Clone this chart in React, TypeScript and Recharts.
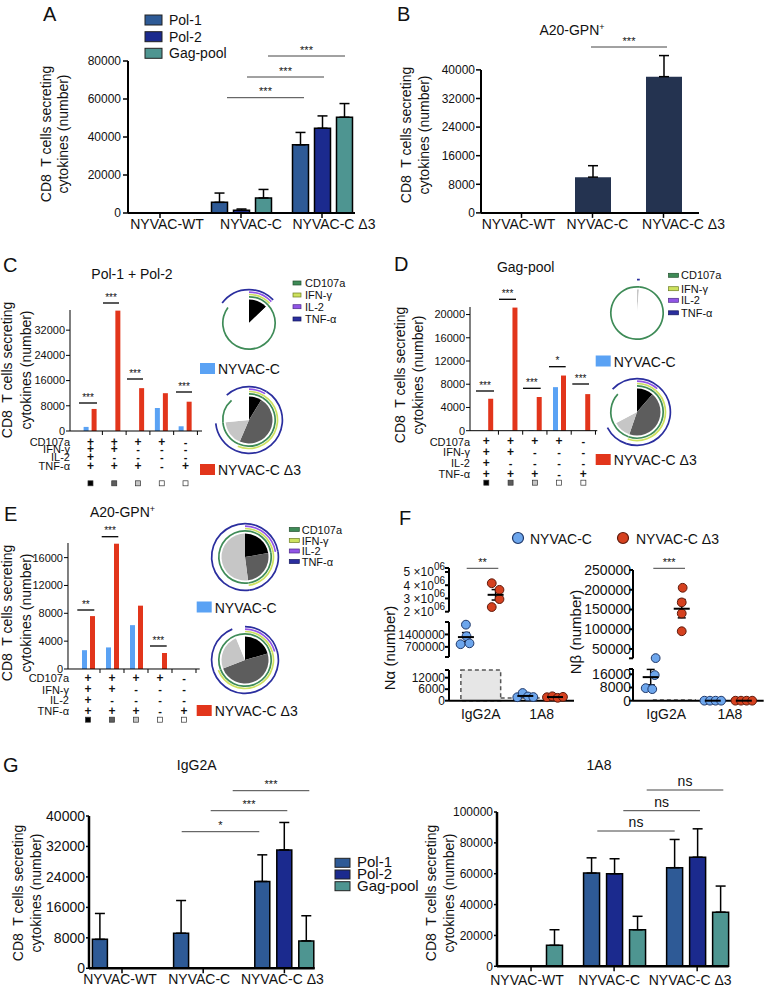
import React from "react";
import {
  BarChart,
  Bar,
  XAxis,
  YAxis,
  ErrorBar,
  PieChart,
  Pie,
  Cell,
  ScatterChart,
  Scatter,
  ReferenceArea,
  ReferenceLine,
} from "recharts";

const FONT = "'Liberation Sans', Arial, Helvetica, sans-serif";
const INK = "#111";

// ---------- data ----------
const vaccines = ["NYVAC-WT", "NYVAC-C", "NYVAC-C Δ3"];
const pools = ["Pol-1", "Pol-2", "Gag-pool"];

// A: CD8 response per peptide pool
const aPol1 = [0, 5600, 35900];
const aPol1Sem = [0, 4900, 6500];
const aPol2 = [0, 1400, 44600];
const aPol2Sem = [0, 700, 6500];
const aGag = [0, 7900, 50400];
const aGagSem = [0, 4500, 7200];
const aTicks = [0, 20000, 40000, 60000, 80000];

// B: A20-GPN+
const bA20 = [0, 10000, 38100];
const bA20Sem = [0, 3200, 5900];
const bTicks = [0, 8000, 16000, 24000, 32000, 40000];

// C-E: functional profiles (CD107a, IFN-γ, IL-2, TNF-α)
const markers = ["CD107a", "IFN-γ", "IL-2", "TNF-α"];
const profiles = [
  [1, 1, 1, 1],
  [1, 1, 0, 1],
  [1, 0, 0, 1],
  [1, 0, 0, 0],
  [0, 0, 0, 1],
];
const cNyvacC = [1300, 0, 0, 7300, 1500];
const cNyvacD3 = [7000, 38200, 13600, 12000, 9300];
const cTicks = [0, 8000, 16000, 24000, 32000];
const dNyvacC = [0, 0, 100, 7500, 0];
const dNyvacD3 = [5500, 21200, 5800, 9500, 6300];
const dTicks = [0, 4000, 8000, 12000, 16000, 20000];
const eNyvacC = [2700, 3100, 6300, 0, 0];
const eNyvacD3 = [7600, 18000, 9100, 2300, 0];
const eTicks = [0, 4000, 8000, 12000, 16000];

// F: neutrophil counts per mouse
const treatments = ["IgG2A", "1A8"];
const nAlphaIgC = [1950000, 1300000, 850000, 900000];
const nAlphaIgD3 = [4150000, 3650000, 2950000, 2350000];
const nAlpha1a8C = [1800, 4000, 2200, 1900];
const nAlpha1a8D3 = [1800, 2300, 1500, 2000];
const nBetaIgC = [27000, 15500, 7600, 7000];
const nBetaIgD3 = [205000, 168000, 140000, 95000];
const nBeta1a8C = [0, 0, 0, 0];
const nBeta1a8D3 = [0, 0, 0, 0];

// G: IgG2A vs 1A8 treated
const gIgPol1 = [7600, 9200, 22800];
const gIgPol1Sem = [6800, 8600, 7000];
const gIgPol2 = [0, 0, 31100];
const gIgPol2Sem = [0, 0, 7200];
const gIgGag = [0, 0, 7200];
const gIgGagSem = [0, 0, 6600];
const gIgTicks = [0, 8000, 16000, 24000, 32000, 40000];
const g1a8Pol1 = [0, 60400, 63900];
const g1a8Pol1Sem = [0, 9900, 18300];
const g1a8Pol2 = [0, 60000, 70700];
const g1a8Pol2Sem = [0, 9700, 18400];
const g1a8Gag = [13600, 23700, 35100];
const g1a8GagSem = [10100, 8700, 16900];
const g1a8Ticks = [0, 20000, 40000, 60000, 80000, 100000];

// ---------- styling ----------
const poolColors = ["#2e5a96", "#1b2a8e", "#4e9591"];
const navy = "#243350";
const blueC = "#5aa2f4";
const redD3 = "#e2351b";
const shades = ["#000000", "#5d5d5d", "#c6c6c6", "#ffffff", "#ffffff"];
const ringColors = ["#3e8b57", "#cde15e", "#9155e6", "#2a2e9e"];
const ringEdges = ["#24502f", "#6b7d22", "#4b2a86", "#15185c"];
const ringR = [26.2, 28.5, 30.9, 33.4];

type Frame = { x: number; y: number; w: number; h: number };
const frame = (x0: number, y0: number, x1: number, y1: number): Frame => ({
  x: x0,
  y: y0,
  w: x1 - x0,
  h: y1 - y0,
});

type Series = { key: string; values: number[]; sem: number[]; color: string };

function ShiftTick(props: any) {
  const { x, y, payload, shifts, font } = props;
  const i = vaccines.indexOf(payload.value);
  return (
    <text x={x + (shifts[i] || 0)} y={y} dy="0.71em" textAnchor="middle" fontSize={font} fill={INK} fontFamily={FONT}>
      {payload.value}
    </text>
  );
}

function VaccineBars(p: {
  f: Frame;
  series: Series[];
  domain: [number, number];
  ticks: number[];
  pad: { left: number; right: number };
  barSize: number;
  barGap: number;
  xFont: number;
  yFont: number;
  axisW: number;
  xTick: [number, number];
  yTick: [number, number];
  outline: string;
  shifts: number[];
  hideYLine?: boolean;
}) {
  const yw = 70;
  const mt = 20;
  const mr = 40;
  const xh = 36;
  const rows = vaccines.map((name, i) => {
    const r: Record<string, any> = { name };
    p.series.forEach((s) => {
      r[s.key] = s.values[i];
      r[s.key + "Sem"] = [0, s.sem[i]];
    });
    return r;
  });
  return (
    <div style={{ position: "absolute", left: p.f.x - yw, top: p.f.y - mt }}>
      <BarChart
        width={p.f.w + yw + mr}
        height={p.f.h + mt + xh}
        data={rows}
        margin={{ top: mt, right: mr, bottom: 0, left: 0 }}
        barSize={p.barSize}
        barGap={p.barGap}
      >
        <XAxis
          dataKey="name"
          height={xh}
          interval={0}
          padding={p.pad}
          stroke="#000"
          axisLine={{ stroke: "#000", strokeWidth: p.axisW }}
          tickLine={{ stroke: "#000", strokeWidth: 1.5 }}
          tickSize={p.xTick[0]}
          tickMargin={p.xTick[1]}
          tick={<ShiftTick shifts={p.shifts} font={p.xFont} />}
        />
        <YAxis
          width={yw}
          type="number"
          domain={p.domain}
          ticks={p.ticks}
          interval={0}
          stroke="#000"
          axisLine={p.hideYLine ? false : { stroke: "#000", strokeWidth: p.axisW }}
          tickLine={{ stroke: "#000", strokeWidth: 1.5 }}
          tickSize={p.yTick[0]}
          tickMargin={p.yTick[1]}
          tick={{ fontSize: p.yFont, fill: INK, fontFamily: FONT }}
        />
        {p.series.map((s) => (
          <Bar
            key={s.key}
            dataKey={s.key}
            fill={s.color}
            stroke={p.outline}
            strokeWidth={1.5}
            isAnimationActive={false}
          >
            <ErrorBar dataKey={s.key + "Sem"} width={5} strokeWidth={1.5} stroke="#000" direction="y" />
          </Bar>
        ))}
      </BarChart>
    </div>
  );
}

function ProfileTick(props: any) {
  const { x, y, payload, rows, sq, half } = props;
  const idx = Number(String(payload.value).slice(1));
  const col = profiles[idx];
  return (
    <g>
      <line x1={x + half} x2={x + half} y1={y} y2={y + 4} stroke="#000" strokeWidth={1} />
      {col.map((s: number, r: number) => (
        <text
          key={r}
          x={x}
          y={y + rows[r]}
          textAnchor="middle"
          fontSize={s ? 12 : 11}
          fontWeight="bold"
          fill={INK}
          fontFamily={FONT}
        >
          {s ? "+" : "-"}
        </text>
      ))}
      <rect x={x - 2.5} y={y + sq - 2.5} width={5} height={5} fill={shades[idx]} stroke="#333" strokeWidth={0.7} />
    </g>
  );
}

function SpiceBars(p: {
  f: Frame;
  nyvacC: number[];
  nyvacD3: number[];
  domain: [number, number];
  ticks: number[];
  pad: { left: number; right: number };
  rows: number[];
  sq: number;
  half: number;
}) {
  const yw = 60;
  const mt = 10;
  const mr = 10;
  const xh = 62;
  const data = profiles.map((_, i) => ({ name: `s${i}`, c: p.nyvacC[i], d3: p.nyvacD3[i] }));
  return (
    <div style={{ position: "absolute", left: p.f.x - yw, top: p.f.y - mt }}>
      <BarChart
        width={p.f.w + yw + mr}
        height={p.f.h + mt + xh}
        data={data}
        margin={{ top: mt, right: mr, bottom: 0, left: 0 }}
        barSize={5}
        barGap={3}
      >
        <XAxis
          dataKey="name"
          height={xh}
          interval={0}
          padding={p.pad}
          axisLine={{ stroke: "#000", strokeWidth: 1 }}
          tickLine={false}
          tickSize={0}
          tickMargin={0}
          tick={<ProfileTick rows={p.rows} sq={p.sq} half={p.half} />}
        />
        <YAxis
          width={yw}
          type="number"
          domain={p.domain}
          ticks={p.ticks}
          interval={0}
          axisLine={{ stroke: "#000", strokeWidth: 1 }}
          tickLine={{ stroke: "#000", strokeWidth: 1 }}
          tickSize={4}
          tickMargin={1}
          tick={{ fontSize: 11, fill: INK, fontFamily: FONT }}
        />
        <Bar dataKey="c" fill={blueC} isAnimationActive={false} />
        <Bar dataKey="d3" fill={redD3} isAnimationActive={false} />
      </BarChart>
    </div>
  );
}

function SpicePie({ cx, cy, values }: { cx: number; cy: number; values: number[] }) {
  const data = values.map((v, i) => ({ name: `p${i + 1}`, value: v }));
  const s = 80;
  return (
    <div style={{ position: "absolute", left: cx - s / 2, top: cy - s / 2 }}>
      <PieChart width={s} height={s} margin={{ top: 0, right: 0, bottom: 0, left: 0 }}>
        <Pie
          data={data}
          dataKey="value"
          cx={s / 2}
          cy={s / 2}
          innerRadius={0}
          outerRadius={23.5}
          startAngle={90}
          endAngle={-270}
          stroke="none"
          isAnimationActive={false}
        >
          {data.map((d, i) => (
            <Cell key={d.name} fill={shades[i]} />
          ))}
        </Pie>
        {markers.map((m, k) => (
          <Pie
            key={m}
            data={data}
            dataKey="value"
            cx={s / 2}
            cy={s / 2}
            innerRadius={ringR[k] - 0.85}
            outerRadius={ringR[k] + 0.85}
            startAngle={90}
            endAngle={-270}
            stroke="none"
            isAnimationActive={false}
          >
            {data.map((d, i) => (
              <Cell key={d.name} fill={profiles[i][k] ? ringColors[k] : "none"} />
            ))}
          </Pie>
        ))}
      </PieChart>
    </div>
  );
}

// ---------- F: scatter with broken y axes ----------
const fDomain: [number, number] = [0.43, 4.64];
const spread4 = [-0.27, -0.09, 0.09, 0.27];

type DotSet = { values: number[]; at: number; dx: number[]; fill: string; stroke: string };
type Seg = {
  y0: number;
  y1: number;
  domain: [number, number];
  ticks: number[];
  caps: number[];
  sci?: boolean;
  bottom?: boolean;
  extras?: React.ReactNode;
};

const mean = (a: number[]) => a.reduce((s, v) => s + v, 0) / a.length;
const sem = (a: number[]) => {
  const m = mean(a);
  const sd = Math.sqrt(a.reduce((s, v) => s + (v - m) * (v - m), 0) / (a.length - 1));
  return sd / Math.sqrt(a.length);
};

function SciTick(props: any) {
  const { x, y, payload } = props;
  const v = payload.value as number;
  if (v % 1000000 !== 0) return null;
  return (
    <text x={x} y={y + 4.5} textAnchor="end" fontSize={12} fill={INK} fontFamily={FONT}>
      {`${v / 1000000} ×10`}
      <tspan dy={-6} fontSize={10}>
        06
      </tspan>
    </text>
  );
}

function DotPanel({
  x0,
  x1,
  segs,
  sets,
  tickFont,
  tickMargin,
}: {
  x0: number;
  x1: number;
  segs: Seg[];
  sets: DotSet[];
  tickFont: number;
  tickMargin: number;
}) {
  const yw = 70;
  const mr = 10;
  return (
    <>
      {segs.map((seg, si) => {
        const mt = 8;
        const xh = seg.bottom ? 28 : 0;
        const mb = seg.bottom ? 0 : 8;
        const w = x1 - x0;
        const h = seg.y1 - seg.y0;
        const inSeg = (v: number) => v >= seg.domain[0] && v <= seg.domain[1];
        return (
          <div key={si} style={{ position: "absolute", left: x0 - yw, top: seg.y0 - mt }}>
            <ScatterChart
              width={w + yw + mr}
              height={h + mt + xh + mb}
              margin={{ top: mt, right: mr, bottom: mb, left: 0 }}
            >
              <XAxis
                type="number"
                dataKey="x"
                domain={fDomain}
                hide={!seg.bottom}
                height={xh}
                ticks={[1.5, 3.55]}
                tickFormatter={(v: number) => (v < 2.5 ? treatments[0] : treatments[1])}
                axisLine={{ stroke: "#000", strokeWidth: 2 }}
                tickLine={false}
                tickSize={6}
                tickMargin={2}
                tick={{ fontSize: 14, fill: INK, fontFamily: FONT }}
              />
              <YAxis
                type="number"
                dataKey="y"
                width={yw}
                domain={seg.domain}
                ticks={seg.ticks}
                interval={0}
                axisLine={{ stroke: "#000", strokeWidth: 2 }}
                tickLine={{ stroke: "#000", strokeWidth: 2 }}
                tickSize={4}
                tickMargin={tickMargin}
                tickFormatter={(v: number) => (seg.caps.includes(v) ? "" : String(v))}
                tick={seg.sci ? <SciTick /> : { fontSize: tickFont, fill: INK, fontFamily: FONT }}
              />
              {seg.extras}
              {sets.map((s, k) => {
                const pts = s.values
                  .map((v, i) => ({ x: s.at + s.dx[i], y: v }))
                  .filter((d) => inSeg(d.y));
                if (!pts.length) return null;
                return (
                  <Scatter
                    key={`d${k}`}
                    data={pts}
                    isAnimationActive={false}
                    shape={(q: any) => (
                      <circle cx={q.cx} cy={q.cy} r={4.4} fill={s.fill} stroke={s.stroke} strokeWidth={1} />
                    )}
                  />
                );
              })}
              {sets.map((s, k) => {
                const m = mean(s.values);
                if (!inSeg(m)) return null;
                return (
                  <Scatter
                    key={`m${k}`}
                    data={[{ x: s.at, y: m, e: sem(s.values) }]}
                    isAnimationActive={false}
                    shape={(q: any) => (
                      <line x1={q.cx - 8} x2={q.cx + 8} y1={q.cy} y2={q.cy} stroke="#000" strokeWidth={2} />
                    )}
                  >
                    <ErrorBar dataKey="e" direction="y" width={4} strokeWidth={1.5} stroke="#000" />
                  </Scatter>
                );
              })}
            </ScatterChart>
          </div>
        );
      })}
    </>
  );
}

const dotBlue = { fill: "#6da6ec", stroke: "#1f3768" };
const dotRed = { fill: "#d5411f", stroke: "#5e1a0c" };

function PanelF() {
  const alphaSets: DotSet[] = [
    { values: nAlphaIgC, at: 1, dx: [0, 0.02, -0.18, 0.12], ...dotBlue },
    { values: nAlphaIgD3, at: 2, dx: [-0.13, 0.13, 0.13, -0.13], ...dotRed },
    { values: nAlpha1a8C, at: 3, dx: spread4, ...dotBlue },
    { values: nAlpha1a8D3, at: 4, dx: spread4, ...dotRed },
  ];
  const betaSets: DotSet[] = [
    { values: nBetaIgC, at: 1, dx: [0.16, 0.13, -0.16, 0.05], ...dotBlue },
    { values: nBetaIgD3, at: 2, dx: [0.03, 0, 0, 0], ...dotRed },
    { values: nBeta1a8C, at: 3, dx: spread4, ...dotBlue },
    { values: nBeta1a8D3, at: 4, dx: spread4, ...dotRed },
  ];
  const alphaSegs: Seg[] = [
    {
      y0: 568,
      y1: 611.7,
      domain: [2000000, 5300000],
      ticks: [2000000, 3000000, 4000000, 5000000, 5300000],
      caps: [5300000],
      sci: true,
    },
    {
      y0: 621.7,
      y1: 656.7,
      domain: [130000, 2100000],
      ticks: [130000, 700000, 1400000, 2100000],
      caps: [130000, 2100000],
    },
    {
      y0: 670.3,
      y1: 701,
      domain: [0, 16000],
      ticks: [0, 6000, 12000, 16000],
      caps: [16000],
      bottom: true,
      extras: [
        <ReferenceArea
          key="box"
          x1={0.83}
          x2={2.17}
          y1={0}
          y2={16000}
          fill="#e6e6e6"
          fillOpacity={1}
          stroke="#555"
          strokeWidth={1.5}
          strokeDasharray="4 3"
        />,
        <ReferenceLine
          key="dash"
          segment={[
            { x: 2.17, y: 1400 },
            { x: 3.95, y: 1400 },
          ]}
          stroke="#555"
          strokeWidth={1.5}
          strokeDasharray="4 3"
        />,
      ],
    },
  ];
  const betaSegs: Seg[] = [
    {
      y0: 570,
      y1: 658.3,
      domain: [26500, 250000],
      ticks: [26500, 50000, 100000, 150000, 200000, 250000],
      caps: [26500],
    },
    {
      y0: 669.3,
      y1: 701,
      domain: [0, 19200],
      ticks: [0, 8000, 16000, 19200],
      caps: [19200],
      bottom: true,
      extras: [
        <ReferenceLine
          key="dash"
          segment={[
            { x: 1.07, y: 400 },
            { x: 2.46, y: 400 },
          ]}
          stroke="#555"
          strokeWidth={1.5}
          strokeDasharray="4 3"
        />,
      ],
    },
  ];
  return (
    <>
      <DotPanel x0={449} x1={574} segs={alphaSegs} sets={alphaSets} tickFont={12} tickMargin={0} />
      <DotPanel x0={633.3} x1={764} segs={betaSegs} sets={betaSets} tickFont={14} tickMargin={-2} />
    </>
  );
}

// ---------- overlay text ----------
function YTitle({ x1, x2, cy }: { x1: number; x2: number; cy: number }) {
  return (
    <g fontSize={14} fill={INK} textAnchor="middle" dominantBaseline="central">
      <text transform={`translate(${x1},${cy}) rotate(-90)`} style={{ whiteSpace: "pre" }}>
        {"CD8  T cells secreting"}
      </text>
      <text transform={`translate(${x2},${cy}) rotate(-90)`}>cytokines (number)</text>
    </g>
  );
}

function Sig({ x1, x2, y, label, size = 11, w = 1, color = "#444" }: any) {
  const ns = label === "ns";
  return (
    <g>
      <line x1={x1} x2={x2} y1={y} y2={y} stroke={color} strokeWidth={w} />
      <text x={(x1 + x2) / 2} y={ns ? y - 4 : y - 2.5} textAnchor="middle" fontSize={ns ? 14 : size} fill={INK}>
        {label}
      </text>
    </g>
  );
}

function Letter({ x, y, t }: { x: number; y: number; t: string }) {
  return (
    <text x={x} y={y} fontSize={20} fill={INK}>
      {t}
    </text>
  );
}

function PoolLegend({ x, ys, w, h, tx, size }: { x: number; ys: number[]; w: number; h: number; tx: number; size: number }) {
  return (
    <g>
      {pools.map((p, i) => (
        <g key={p}>
          <rect x={x} y={ys[i]} width={w} height={h} fill={poolColors[i]} stroke="#222" strokeWidth={1} />
          <text x={tx} y={ys[i] + h} fontSize={size} fill={INK}>
            {p}
          </text>
        </g>
      ))}
    </g>
  );
}

function VaxLegend({ x, y1, y2 }: { x: number; y1: number; y2: number }) {
  return (
    <g fontSize={14} fill={INK}>
      <rect x={x} y={y1} width={15} height={11} fill={blueC} />
      <text x={x + 18} y={y1 + 11}>
        NYVAC-C
      </text>
      <rect x={x} y={y2} width={15} height={11} fill={redD3} />
      <text x={x + 18} y={y2 + 11}>
        NYVAC-C Δ3
      </text>
    </g>
  );
}

function MarkerLegend({ x, bw, tx, ys }: { x: number; bw: number; tx: number; ys: number[] }) {
  return (
    <g fontSize={11} fill={INK}>
      {markers.map((m, k) => (
        <g key={m}>
          <rect x={x} y={ys[k] - 2} width={bw} height={4} fill={ringColors[k]} stroke={ringEdges[k]} strokeWidth={0.7} />
          <text x={tx} y={ys[k] + 4}>
            {m}
          </text>
        </g>
      ))}
    </g>
  );
}

function RowLabels({ x, axisY, rows }: { x: number; axisY: number; rows: number[] }) {
  return (
    <g fontSize={11} fill={INK} textAnchor="end">
      {markers.map((m, r) => (
        <text key={m} x={x} y={axisY + rows[r]}>
          {m}
        </text>
      ))}
    </g>
  );
}

function Gpn({ x, y }: { x: number; y: number }) {
  return (
    <text x={x} y={y} textAnchor="middle" fontSize={14} fill={INK}>
      A20-GPN
      <tspan dy={-5} fontSize={9}>
        +
      </tspan>
    </text>
  );
}

const cRows = [14.6, 22.2, 30.3, 38.6];
const dRows = [14.6, 25.3, 36.3, 47];
const eRows = [13, 24.5, 35, 45.8];

function Overlay() {
  return (
    <svg
      width={768}
      height={988}
      style={{ position: "absolute", left: 0, top: 0, pointerEvents: "none" }}
      fontFamily={FONT}
    >
      {/* A */}
      <Letter x={43} y={21} t="A" />
      <YTitle x1={46} x2={63} cy={134} />
      <PoolLegend x={145} ys={[15, 31.7, 48.3]} w={17} h={10} tx={169} size={14} />
      <Sig x1={227} x2={304} y={97.7} label="***" />
      <Sig x1={247} x2={324} y={77} label="***" />
      <Sig x1={268} x2={345} y={56} label="***" />

      {/* B */}
      <Letter x={397} y={21} t="B" />
      <Gpn x={572} y={35} />
      <YTitle x1={405.5} x2={424} cy={135} />
      <line x1={481} x2={481} y1={70} y2={213} stroke="#000" strokeWidth={2} />
      <Sig x1={591} x2={667} y={47} label="***" />

      {/* C */}
      <Letter x={3} y={271.5} t="C" />
      <text x={132} y={279} textAnchor="middle" fontSize={14} fill={INK}>
        Pol-1 + Pol-2
      </text>
      <YTitle x1={7} x2={26} cy={370} />
      <RowLabels x={70} axisY={431} rows={cRows} />
      <VaxLegend x={200} y1={363} y2={464} />
      <MarkerLegend x={293} bw={8} tx={305} ys={[283, 295, 306.7, 319]} />
      <Sig x1={79} x2={97} y={403} label="***" size={10} w={1.3} color="#000" />
      <Sig x1={103} x2={119} y={303} label="***" size={10} w={1.3} color="#000" />
      <Sig x1={127} x2={143} y={379} label="***" size={10} w={1.3} color="#000" />
      <Sig x1={176} x2={192} y={392} label="***" size={10} w={1.3} color="#000" />

      {/* D */}
      <Letter x={394} y={271} t="D" />
      <text x={525.7} y={271.7} textAnchor="middle" fontSize={14} fill={INK}>
        Gag-pool
      </text>
      <YTitle x1={400} x2={418} cy={375} />
      <RowLabels x={470} axisY={431} rows={dRows} />
      <VaxLegend x={595.7} y1={355.5} y2={454} />
      <MarkerLegend x={668.5} bw={10} tx={681} ys={[275.3, 288.7, 300.3, 312.8]} />
      <Sig x1={476} x2={494} y={391} label="***" size={10} w={1.3} color="#000" />
      <Sig x1={499} x2={516} y={299.3} label="***" size={10} w={1.3} color="#000" />
      <Sig x1={523} x2={540.7} y={388.3} label="***" size={10} w={1.3} color="#000" />
      <Sig x1={549} x2={565.7} y={366.7} label="*" size={10} w={1.3} color="#000" />
      <Sig x1={572.3} x2={589} y={384} label="***" size={10} w={1.3} color="#000" />

      {/* E */}
      <Letter x={4} y={521} t="E" />
      <Gpn x={122.5} y={516.7} />
      <YTitle x1={7} x2={26} cy={613} />
      <RowLabels x={69} axisY={669.3} rows={eRows} />
      <VaxLegend x={196.7} y1={601.5} y2={705} />
      <MarkerLegend x={289.3} bw={10} tx={301.7} ys={[529.5, 540.5, 551, 561.5]} />
      <Sig x1={77.3} x2={94.3} y={610} label="**" size={10} w={1.3} color="#000" />
      <Sig x1={101.7} x2={118.3} y={536.7} label="***" size={10} w={1.3} color="#000" />
      <Sig x1={150} x2={166.7} y={646} label="***" size={10} w={1.3} color="#000" />

      {/* F */}
      <Letter x={399} y={525} t="F" />
      <circle cx={518} cy={538} r={5.5} fill={dotBlue.fill} stroke={dotBlue.stroke} strokeWidth={1.2} />
      <text x={530} y={543.5} fontSize={14} fill={INK}>
        NYVAC-C
      </text>
      <circle cx={623} cy={538} r={5.5} fill={dotRed.fill} stroke={dotRed.stroke} strokeWidth={1.2} />
      <text x={636} y={543.5} fontSize={14} fill={INK}>
        NYVAC-C Δ3
      </text>
      <text transform="translate(389,648) rotate(-90)" textAnchor="middle" dominantBaseline="central" fontSize={15} fill={INK}>
        Nα (number)
      </text>
      <text transform="translate(575,632) rotate(-90)" textAnchor="middle" dominantBaseline="central" fontSize={15} fill={INK}>
        Nβ (number)
      </text>
      <Sig x1={466.7} x2={498.3} y={568.3} label="**" />
      <Sig x1={653.3} x2={685} y={568.3} label="***" />

      {/* G */}
      <Letter x={3} y={772} t="G" />
      <text x={196.7} y={770} textAnchor="middle" fontSize={14} fill={INK}>
        IgG2A
      </text>
      <text x={599} y={770} textAnchor="middle" fontSize={14} fill={INK}>
        1A8
      </text>
      <YTitle x1={17.5} x2={36} cy={893} />
      <YTitle x1={430.7} x2={449} cy={893} />
      <PoolLegend x={335} ys={[858.3, 870, 881.7]} w={15} h={9} tx={357} size={15} />
      <Sig x1={181.7} x2={259.3} y={831.7} label="*" />
      <Sig x1={210.7} x2={287.3} y={810.7} label="***" />
      <Sig x1={232.7} x2={309.3} y={790.7} label="***" />
      <Sig x1={597.3} x2={674.7} y={831} label="ns" />
      <Sig x1={623.3} x2={700} y={810.7} label="ns" />
      <Sig x1={646.7} x2={723.3} y={790} label="ns" />
    </svg>
  );
}

export default function App() {
  const aSeries: Series[] = [
    { key: "pol1", values: aPol1, sem: aPol1Sem, color: poolColors[0] },
    { key: "pol2", values: aPol2, sem: aPol2Sem, color: poolColors[1] },
    { key: "gag", values: aGag, sem: aGagSem, color: poolColors[2] },
  ];
  const gIgSeries: Series[] = [
    { key: "pol1", values: gIgPol1, sem: gIgPol1Sem, color: poolColors[0] },
    { key: "pol2", values: gIgPol2, sem: gIgPol2Sem, color: poolColors[1] },
    { key: "gag", values: gIgGag, sem: gIgGagSem, color: poolColors[2] },
  ];
  const g1a8Series: Series[] = [
    { key: "pol1", values: g1a8Pol1, sem: g1a8Pol1Sem, color: poolColors[0] },
    { key: "pol2", values: g1a8Pol2, sem: g1a8Pol2Sem, color: poolColors[1] },
    { key: "gag", values: g1a8Gag, sem: g1a8GagSem, color: poolColors[2] },
  ];
  return (
    <div
      style={{
        position: "absolute",
        left: 0,
        top: 0,
        width: 768,
        height: 988,
        background: "#fff",
        fontFamily: FONT,
        overflow: "hidden",
      }}
    >
      <VaccineBars
        f={frame(128, 61, 355, 213)}
        series={aSeries}
        domain={[0, 80000]}
        ticks={aTicks}
        pad={{ left: -8.5, right: -7.5 }}
        barSize={16}
        barGap={6}
        xFont={14}
        yFont={12}
        axisW={2}
        xTick={[5, 1]}
        yTick={[5, 2]}
        outline="#000"
        shifts={[7, 10, 12]}
      />
      <VaccineBars
        f={frame(481, 52.1, 699, 213)}
        series={[{ key: "a20", values: bA20, sem: bA20Sem, color: navy }]}
        domain={[0, 45000]}
        ticks={bTicks}
        pad={{ left: 5, right: 0 }}
        barSize={36}
        barGap={0}
        xFont={14}
        yFont={12}
        axisW={2}
        xTick={[5, 1]}
        yTick={[5, 1]}
        outline="none"
        shifts={[-3, 5, 20]}
        hideYLine
      />
      <SpiceBars
        f={frame(70, 310, 202, 431)}
        nyvacC={cNyvacC}
        nyvacD3={cNyvacD3}
        domain={[0, 38400]}
        ticks={cTicks}
        pad={{ left: 8.6, right: 4.6 }}
        rows={cRows}
        sq={52.3}
        half={11.9}
      />
      <SpicePie cx={248.5} cy={322.5} values={cNyvacC} />
      <SpicePie cx={249} cy={420} values={cNyvacD3} />
      <SpiceBars
        f={frame(470, 307.3, 597.3, 431)}
        nyvacC={dNyvacC}
        nyvacD3={dNyvacD3}
        domain={[0, 21300]}
        ticks={dTicks}
        pad={{ left: 4.2, right: 1.8 }}
        rows={dRows}
        sq={52}
        half={12.1}
      />
      <SpicePie cx={636.7} cy={313.3} values={dNyvacC} />
      <SpicePie cx={637.3} cy={411.7} values={dNyvacD3} />
      <SpiceBars
        f={frame(68.3, 543.3, 200, 669.3)}
        nyvacC={eNyvacC}
        nyvacD3={eNyvacD3}
        domain={[0, 18100]}
        ticks={eTicks}
        pad={{ left: 8, right: 3.7 }}
        rows={eRows}
        sq={50.7}
        half={12}
      />
      <SpicePie cx={244.7} cy={557} values={eNyvacC} />
      <SpicePie cx={244.7} cy={660} values={eNyvacD3} />
      <PanelF />
      <VaccineBars
        f={frame(89.3, 816, 315, 968.3)}
        series={gIgSeries}
        domain={[0, 40000]}
        ticks={gIgTicks}
        pad={{ left: -7.6, right: -10.3 }}
        barSize={15}
        barGap={7}
        xFont={14}
        yFont={14}
        axisW={2.5}
        xTick={[5, 1]}
        yTick={[3, 1]}
        outline="#000"
        shifts={[-2, -4, -2]}
      />
      <VaccineBars
        f={frame(497.3, 811.7, 729, 966)}
        series={g1a8Series}
        domain={[0, 100000]}
        ticks={g1a8Ticks}
        pad={{ left: -7.5, right: -10 }}
        barSize={16}
        barGap={7}
        xFont={14}
        yFont={12}
        axisW={2.5}
        xTick={[5, 4]}
        yTick={[3, 1]}
        outline="#000"
        shifts={[-4, -5, -7]}
      />
      <Overlay />
    </div>
  );
}
